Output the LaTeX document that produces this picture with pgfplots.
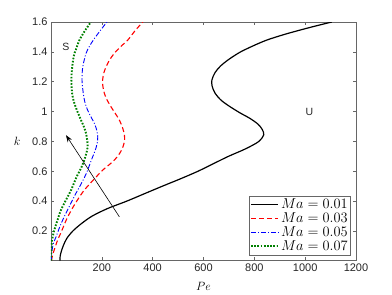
\documentclass[border=0pt]{standalone}
\usepackage[no-math]{fontspec}
\setmainfont{Liberation Sans}
\usepackage{pgfplots}
\pgfplotsset{compat=1.18}
\usetikzlibrary{arrows.meta}
\definecolor{axgray}{rgb}{0.15,0.15,0.15}
\definecolor{mgreen}{rgb}{0,0.5,0}
\begin{document}
\begin{tikzpicture}
\useasboundingbox (-51pt,-34.3pt) rectangle (341pt,260.7pt);
\begin{axis}[
  at={(0pt,0pt)}, anchor=south west,
  scale only axis, width=305pt, height=238.7pt,
  xmin=0, xmax=1200, ymin=0.001, ymax=1.6,
  xtick={200,400,600,800,1000,1200},
  ytick={0.2,0.4,0.6,0.8,1,1.2,1.4,1.6},
  tick align=inside,
  major tick length=3.3pt,
  axis line style={draw=black!60, line width=0.5pt},
  every tick/.style={draw=black!60, line width=0.5pt},
  /pgf/number format/assume math mode=true,
  /pgf/number format/1000 sep={},
  tick label style={font=\fontsize{11}{13}\selectfont, text=axgray},
  xlabel={$Pe$}, ylabel={$k$},
  label style={font=\fontsize{12}{14}\selectfont},
  xlabel style={at={(axis description cs:0.5,-0.109)}, anchor=center},
  ylabel style={at={(axis description cs:-0.111,0.5)}, anchor=center, rotate=-90},
  legend style={at={(0.983,0.024)}, anchor=south east, draw=black!60,
    font=\fontsize{13.5}{15}\selectfont, inner sep=1pt, row sep=-1.5pt},
  legend cell align=left,
  legend image code/.code={\draw[#1] plot coordinates {(0cm,0cm) (0.95cm,0cm)};},
]
\addplot[black, line width=1.2pt, smooth] coordinates {
(35,0.001)(36,0.03)(40,0.06)(48,0.1)(62,0.15)(86,0.2)(120,0.25)(162,0.3)(222,0.35)
(298,0.4)(368,0.45)(438,0.5)(510,0.55)(578,0.6)(638,0.65)(698,0.7)(765,0.75)
(818,0.8)(837,0.845)(831,0.88)(815,0.915)(783,0.954)(745,0.99)(705,1.032)(670,1.075)
(646,1.122)(634,1.17)(633,1.211)(645,1.26)(667,1.305)(700,1.35)(744,1.398)(795,1.44)
(849,1.479)(915,1.515)(980,1.546)(1045,1.575)(1105,1.6)};
\addlegendentry{$Ma=0.01$}
\addplot[red, line width=1.1pt, dash pattern=on 5pt off 3pt, smooth] coordinates {
(2,0.001)(5,0.03)(12,0.07)(18,0.1)(26,0.139)(42,0.2)(59,0.27)(80,0.34)(105,0.41)
(131,0.474)(171,0.55)(205,0.61)(240,0.66)(262,0.7)(280,0.75)(289,0.8)(289,0.84)
(282,0.89)(269,0.943)(252,0.99)(236,1.032)(220,1.08)(210,1.122)(204,1.17)(203,1.211)
(208,1.26)(217,1.30)(230,1.345)(249,1.39)(274,1.435)(302,1.479)(330,1.54)(361,1.6)};
\addlegendentry{$Ma=0.03$}
\addplot[blue, line width=0.9pt, dash pattern=on 5pt off 2pt on 1pt off 2pt, smooth] coordinates {
(1,0.001)(2,0.04)(5,0.08)(10,0.12)(20,0.161)(35,0.23)(52,0.295)(75,0.375)(98,0.452)
(120,0.52)(140,0.59)(160,0.68)(176,0.75)(183,0.8)(184,0.831)(180,0.875)(171,0.92)
(157,0.965)(144,1.01)(133,1.065)(127,1.122)(122,1.211)(125,1.30)(138,1.39)
(152,1.44)(171,1.49)(195,1.545)(220,1.6)};
\addlegendentry{$Ma=0.05$}
\addplot[mgreen, line width=1.9pt, dash pattern=on 1.6pt off 1.6pt, smooth] coordinates {
(1,0.001)(1,0.05)(2,0.1)(4,0.139)(13,0.206)(25,0.27)(39,0.34)(58,0.405)(79,0.474)
(100,0.56)(118,0.62)(132,0.68)(142,0.74)(144,0.77)(143,0.8)(138,0.853)(129,0.9)
(118,0.943)(104,1.0)(92,1.055)(84,1.11)(81,1.167)(81,1.256)(89,1.367)(99,1.42)
(112,1.479)(133,1.54)(157,1.6)};
\addlegendentry{$Ma=0.07$}
\draw[-{Stealth[length=7pt,width=5pt]}, line width=0.6pt] (axis cs:269,0.295) -- (axis cs:59,0.842);
\node[font=\fontsize{10.5}{12}\selectfont, text=axgray] at (axis cs:59,1.434) {S};
\node[font=\fontsize{10.5}{12}\selectfont, text=axgray] at (axis cs:1017,1.0) {U};
\end{axis}
\end{tikzpicture}
\end{document}
